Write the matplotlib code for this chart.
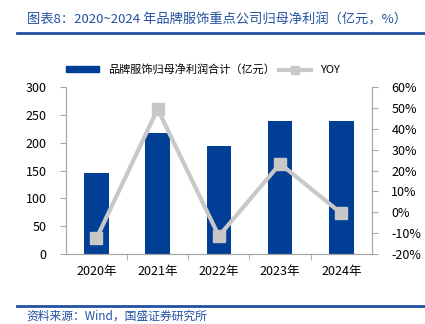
import numpy as np
import matplotlib.pyplot as plt
from matplotlib.lines import Line2D
from matplotlib.patches import Patch
from matplotlib.ticker import FuncFormatter

plt.rcParams['font.family'] = ['Noto Sans CJK SC', 'DejaVu Sans']

# data
years = ['2020年', '2021年', '2022年', '2023年', '2024年']
profit = [146, 218, 194, 240, 239]          # 亿元
yoy = [-12.5, 49.5, -11.4, 23.3, -0.5]      # %

bar_color = '#003F95'
line_color = '#C8C8C8'
title_color = '#2150A0'
axis_color = '#A6A6A6'

fig = plt.figure(figsize=(4.25, 3.24), dpi=100)
ax = fig.add_axes([0.155, 0.216, 0.72, 0.515])
ax2 = ax.twinx()

x = np.arange(len(years))
ax.bar(x, profit, width=0.4, color=bar_color, zorder=2)
ax2.plot(x, yoy, color=line_color, lw=3, marker='s', ms=9,
         mfc=line_color, mec=line_color, zorder=3)

ax.set_xlim(-0.5, len(years) - 0.5)
ax.set_ylim(0, 300)
ax.set_yticks(range(0, 301, 50))
ax2.set_ylim(-20, 60)
ax2.set_yticks(range(-20, 61, 10))
ax2.yaxis.set_major_formatter(FuncFormatter(lambda v, p: f'{v:.0f}%'))

ax.set_xticks(x)
ax.set_xticklabels(years)
ax.set_xticks(np.arange(0.5, len(years) - 1, 1), minor=True)
ax.tick_params(axis='x', which='major', length=0, pad=8, labelsize=9)
ax.tick_params(axis='x', which='minor', length=4, color=axis_color)
ax.tick_params(axis='y', length=4, color=axis_color, labelsize=9, pad=10)
ax2.tick_params(axis='y', length=4, color=axis_color, labelsize=9, pad=10)

for a in (ax, ax2):
    a.spines['top'].set_visible(False)
    for s in ('left', 'right', 'bottom'):
        a.spines[s].set_color(axis_color)
ax.set_zorder(ax2.get_zorder() - 1)
ax2.patch.set_visible(False)
ax.patch.set_visible(False)

# legend
handles = [Patch(color=bar_color),
           Line2D([], [], color=line_color, lw=3, marker='s', ms=6,
                  mfc=line_color, mec=line_color)]
labels = ['品牌服饰归母净利润合计（亿元）', 'YOY']
fig.legend(handles, labels, loc='center', bbox_to_anchor=(0.478, 0.785),
           ncol=2, frameon=False, fontsize=8, handlelength=2.9,
           handleheight=0.4, columnspacing=0.4, handletextpad=0.8)

# title, source and rules
fig.text(0.063, 0.94, '图表8：2020~2024 年品牌服饰重点公司归母净利润（亿元，%）',
         color=title_color, fontsize=9.5, style='italic', va='center')
fig.text(0.063, 0.024, '资料来源：Wind，国盛证券研究所',
         color=title_color, fontsize=8.5, style='italic', va='center')
fig.add_artist(Line2D([0.04, 1.0], [0.898, 0.898], color=title_color, lw=2))
fig.add_artist(Line2D([0.04, 1.0], [0.056, 0.056], color=title_color, lw=2))

fig.savefig('out.png', dpi=100)
